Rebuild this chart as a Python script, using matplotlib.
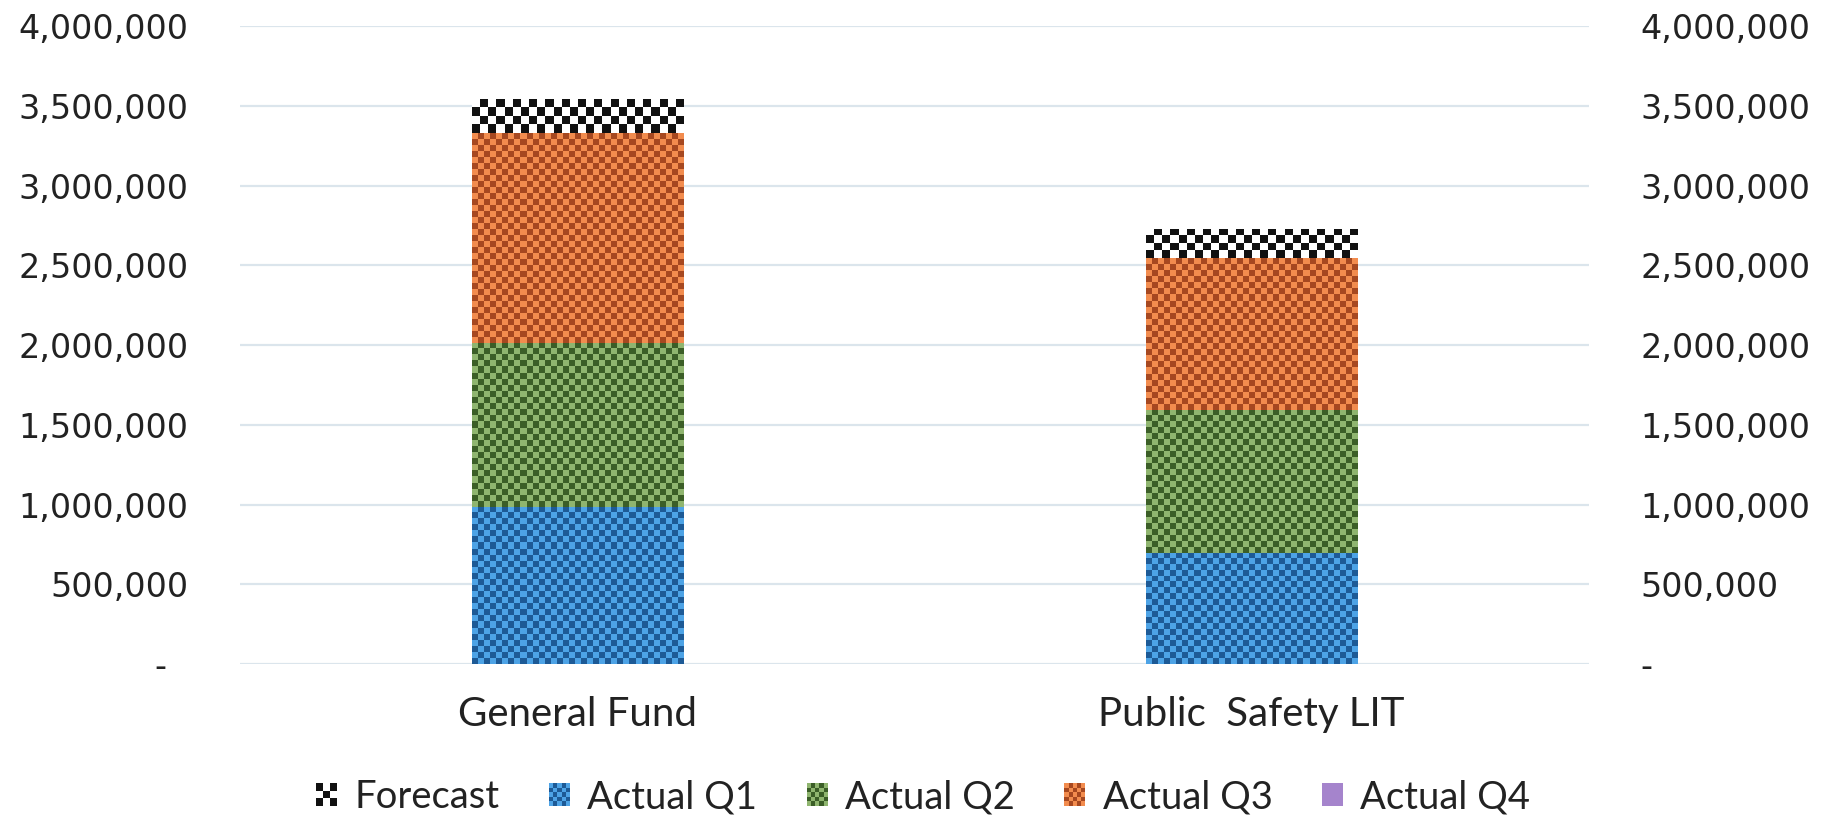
import numpy as np
import matplotlib.pyplot as plt
from matplotlib.colors import to_rgb
from matplotlib.patches import Patch, Rectangle
from matplotlib.ticker import FuncFormatter

funds = ['General Fund', 'Public  Safety LIT']
actual_q1 = [985000, 698000]
actual_q2 = [1030000, 898000]
actual_q3 = [1316000, 948000]
actual_q4 = [0, 0]
forecast = [213000, 184000]
ticks = [0, 500000, 1000000, 1500000, 2000000, 2500000, 3000000, 3500000, 4000000]

# light / dark shades for the checker fill
styles = {
    'Forecast': ('#ffffff', '#111111', 8),
    'Actual Q1': ('#4da3e6', '#1d5a96', 6),
    'Actual Q2': ('#8fb56f', '#3b5e27', 6),
    'Actual Q3': ('#f28c4e', '#a64820', 6),
    'Actual Q4': ('#a584cc', '#a584cc', 6),
}

fig = plt.figure(figsize=(18.39, 8.19), dpi=100)
ax = fig.add_axes([0.1305, 0.189, 0.7335, 0.779])
ax.set_xlim(-0.5, 1.5)
ax.set_ylim(0, 4000000)

x = np.arange(len(funds))
w = 0.313
series = [('Actual Q1', actual_q1), ('Actual Q2', actual_q2),
          ('Actual Q3', actual_q3), ('Actual Q4', actual_q4),
          ('Forecast', forecast)]


def checker(ax, bar, c1, c2, px):
    x0, y0 = bar.get_x(), bar.get_y()
    bw, bh = bar.get_width(), bar.get_height()
    if bh <= 0:
        return
    (ax0, ay0), (ax1, ay1) = ax.transData.transform([(x0, y0), (x0 + bw, y0 + bh)])
    nx = max(1, int(round((ax1 - ax0) / px)))
    ny = max(1, int(round((ay1 - ay0) / px)))
    grid = np.add.outer(np.arange(ny), np.arange(nx)) % 2
    img = np.where(grid[..., None] == 1, np.array(to_rgb(c2)), np.array(to_rgb(c1)))
    im = ax.imshow(img, extent=(x0, x0 + bw, y0, y0 + bh), origin='upper',
                   interpolation='nearest', aspect='auto', zorder=3)
    im.set_clip_path(bar)


bottom = np.zeros(len(funds))
for name, vals in series:
    c1, c2, px = styles[name]
    bars = ax.bar(x, vals, w, bottom=bottom, color=c1, linewidth=0, zorder=2)
    for b in bars:
        checker(ax, b, c1, c2, px)
    bottom += np.array(vals)

ax.set_xlim(-0.5, 1.5)
ax.set_ylim(0, 4000000)
ax.set_aspect('auto')

for s in ax.spines.values():
    s.set_visible(False)
ax.set_yticks(ticks)
ax.yaxis.grid(True, color='#dbe5ec', linewidth=1.6, zorder=0)
ax.set_axisbelow(True)
ax.yaxis.set_major_formatter(FuncFormatter(lambda v, p: '-  ' if v == 0 else f'{v:,.0f}'))
ax.tick_params(axis='y', length=0, pad=37, labelsize=24, labelcolor='#222222')
ax.set_xticks(x, funds)
ax.tick_params(axis='x', length=0, pad=23, labelsize=29, labelcolor='#222222')
for t in ax.get_xticklabels():
    t.set_fontfamily('Lato')

ax2 = ax.twinx()
ax2.set_ylim(0, 4000000)
ax2.set_yticks(ticks)
for s in ax2.spines.values():
    s.set_visible(False)
ax2.yaxis.set_major_formatter(FuncFormatter(lambda v, p: '-' if v == 0 else f'{v:,.0f}'))
ax2.tick_params(axis='y', length=0, pad=37, labelsize=24, labelcolor='#222222')


class CheckerHandler:
    def __init__(self, c1, c2, n):
        self.c1, self.c2, self.n = c1, c2, n

    def legend_artist(self, legend, orig_handle, fontsize, handlebox):
        x0, y0 = -handlebox.xdescent, -handlebox.ydescent
        hw, hh = handlebox.width, handlebox.height
        n = self.n
        r = None
        for i in range(n):
            for j in range(n):
                col = self.c2 if (i + j) % 2 else self.c1
                r = Rectangle((x0 + j * hw / n, y0 + i * hh / n), hw / n, hh / n,
                              facecolor=col, linewidth=0,
                              transform=handlebox.get_transform())
                handlebox.add_artist(r)
        return r


order = ['Forecast', 'Actual Q1', 'Actual Q2', 'Actual Q3', 'Actual Q4']
handles = [Patch(label=n) for n in order]
hmap = {}
for h, n in zip(handles, order):
    c1, c2, px = styles[n]
    if n == 'Forecast':
        hmap[h] = CheckerHandler(c2, c1, 3)
    else:
        hmap[h] = CheckerHandler(c1, c2, 5)
fig.legend(handles=handles, labels=order, handler_map=hmap, loc='center',
           bbox_to_anchor=(0.502, 1 - 797 / 819), ncol=5, frameon=False,
           prop={'family': 'Lato', 'size': 27.5}, handlelength=0.55,
           handleheight=0.55, handletextpad=0.45, columnspacing=1.3,
           labelcolor='#222222')

fig.savefig('out.png', dpi=100)
